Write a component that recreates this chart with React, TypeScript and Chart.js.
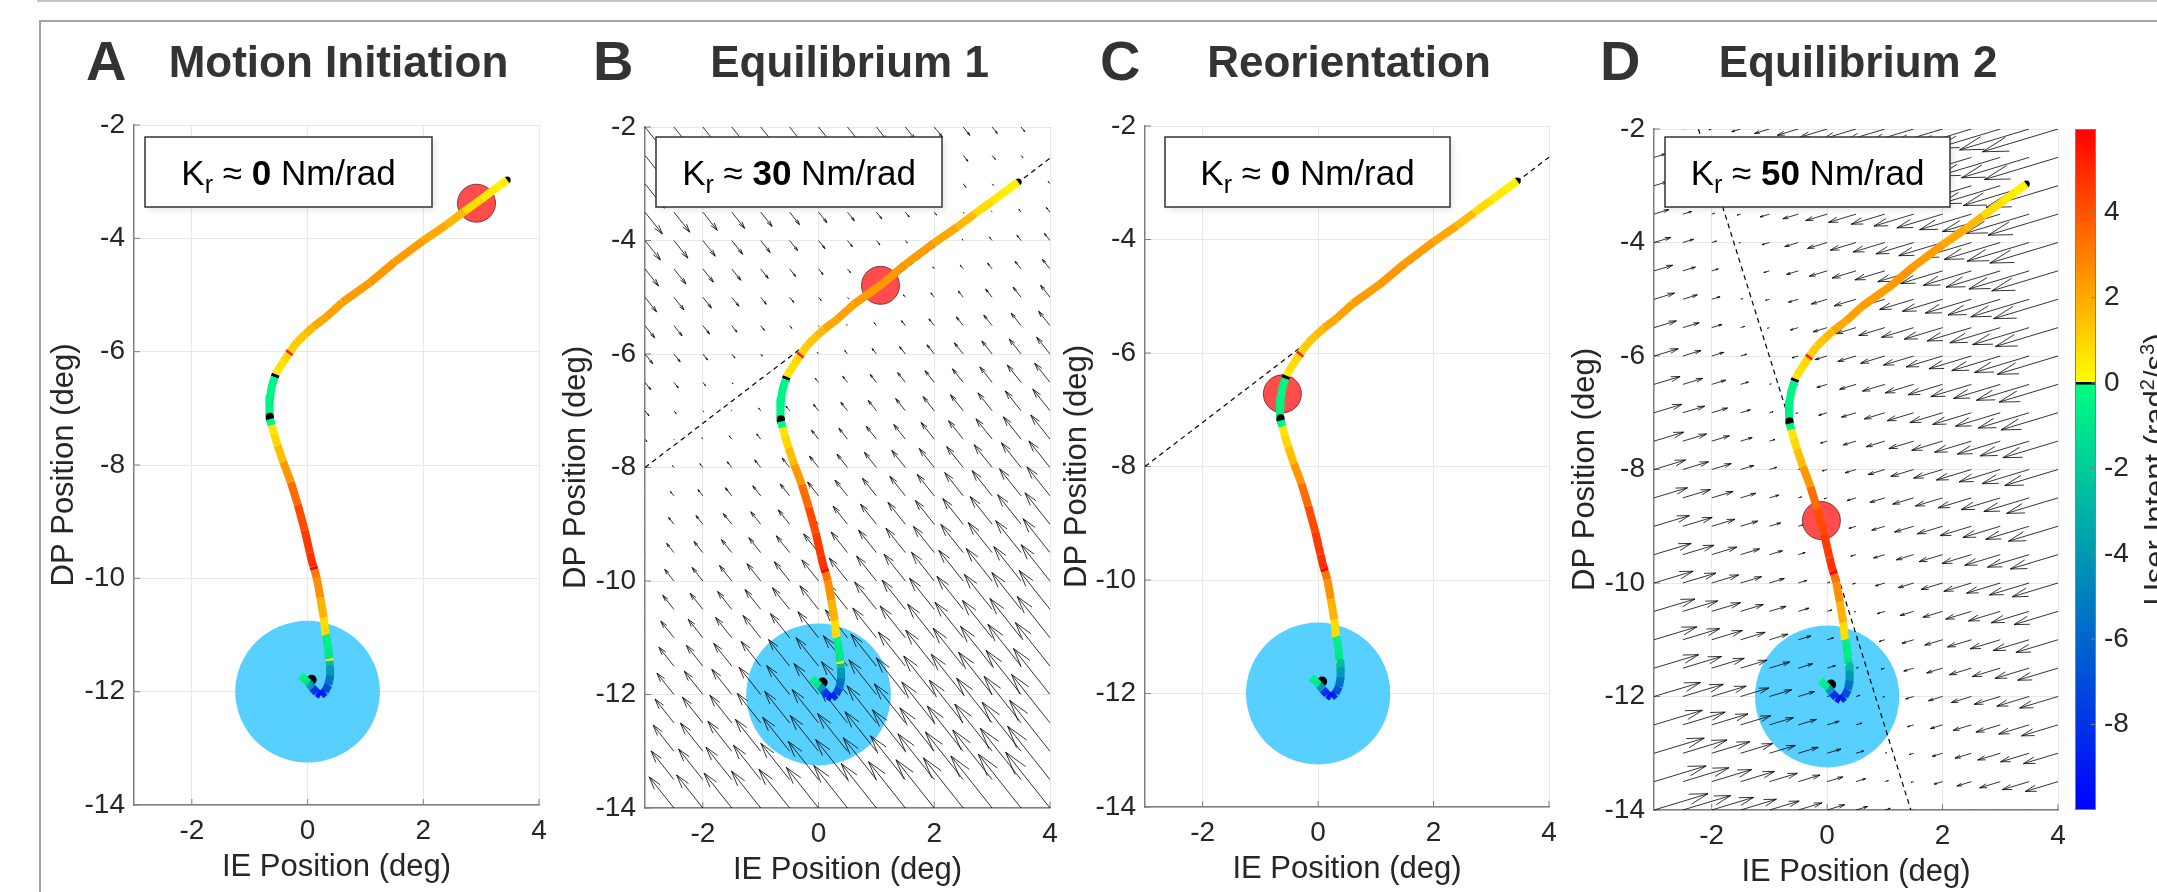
import React, { useEffect, useRef } from 'react';
import { Chart, registerables } from 'chart.js';

Chart.register(...registerables);

// ---------------- DATA ----------------
const xTickValues = [-2, 0, 2, 4];
const yTickValues = [-14, -12, -10, -8, -6, -4, -2];
const colorbarTicks = [-8, -6, -4, -2, 0, 2, 4];
const xRange = [-3, 4];
const yRange = [-14, -2];
const colorbarRange = [-10, 5.95];

const panelLetters = ['A', 'B', 'C', 'D'];
const panelTitles = ['Motion Initiation', 'Equilibrium 1', 'Reorientation', 'Equilibrium 2'];
const stiffnessLabels = ['0', '30', '0', '50'];
const stiffnessK = [0, 30, 0, 50];

const redMarkerX = [2.92, 1.07, -0.62, -0.1];
const redMarkerY = [-3.38, -4.79, -6.72, -8.9];

const targetCenter = [0, -12];
const targetRadius = 1.25;

const equilibriumLineB = [[-3, -8], [4, -2.55]];
const equilibriumLineD = [[-2.23, -2], [1.45, -14]];
const dashedLines = [null, equilibriumLineB, equilibriumLineB, equilibriumLineD];
const fieldLines = [null, equilibriumLineB, null, equilibriumLineD];

const fieldGridX = [-3, -2.5, -2, -1.5, -1, -0.5, 0, 0.5, 1, 1.5, 2, 2.5, 3, 3.5, 4];
const fieldGridY = [-14, -13.5, -13, -12.5, -12, -11.5, -11, -10.5, -10, -9.5, -9, -8.5, -8, -7.5, -7, -6.5, -6, -5.5, -5, -4.5, -4, -3.5, -3, -2.5, -2];
const arrowScale = 0.0046; // arrow length (deg) per (Nm/rad * deg)

// trajectory (IE, DP) and user intent value at each point
const trajX = [3.45, 3.25, 3.0, 2.7, 2.4, 2.0, 1.5, 1.07, 0.6, 0.32, 0.1, -0.04, -0.18, -0.27, -0.30, -0.33, -0.42, -0.52, -0.55, -0.57, -0.62, -0.65, -0.66, -0.66, -0.66, -0.65, -0.62, -0.58, -0.52, -0.42, -0.29, -0.17, -0.05, 0.04, 0.08, 0.10, 0.12, 0.16, 0.22, 0.28, 0.31, 0.33, 0.36, 0.37, 0.38, 0.39, 0.39, 0.36, 0.30, 0.23, 0.16, 0.08, 0.02, -0.05, -0.12];
const trajY = [-2.97, -3.12, -3.31, -3.53, -3.76, -4.04, -4.42, -4.79, -5.13, -5.39, -5.56, -5.69, -5.83, -5.95, -6.00, -6.04, -6.18, -6.34, -6.40, -6.45, -6.62, -6.81, -6.95, -7.10, -7.15, -7.19, -7.30, -7.45, -7.65, -7.95, -8.30, -8.70, -9.15, -9.55, -9.72, -9.79, -9.85, -10.0, -10.34, -10.7, -11.0, -11.05, -11.3, -11.42, -11.46, -11.6, -11.72, -11.88, -12.0, -12.06, -12.02, -11.93, -11.85, -11.78, -11.72];
const trajV = [0.3, 0.5, 0.8, 1.6, 2.0, 2.3, 2.4, 2.3, 2.2, 2.0, 1.6, 1.3, 1.2, 1.1, 5.2, 0.9, 0.7, 0.5, 0, -0.4, -0.4, -0.5, -0.5, -0.4, 0, -0.3, 0.6, 0.9, 1.5, 2.4, 3.4, 4.2, 4.6, 4.8, 4.8, 5.8, 3.2, 2.6, 1.8, 0.8, -0.6, -0.7, -0.9, 0.4, -2.5, -4.0, -5.5, -7.0, -8.5, -9.0, -8.0, -4.0, -1.0, -0.5, -0.5];
const startPoint = [3.45, -2.97];
const endPoint = [0.07, -11.79];

// ---------------- LAYOUT / STYLE ----------------
const W = 2157;
const H = 892;
const FONT = '"Liberation Sans", Arial, Helvetica, sans-serif';
const panelLayout = [
  { plot: [134, 539, 125, 805], letterX: 86, ylabelX: 73, boxX: 145, boxW: 287 },
  { plot: [645, 1050, 127, 808], letterX: 593, ylabelX: 585, boxX: 656, boxW: 286 },
  { plot: [1145, 1549, 126, 807], letterX: 1100, ylabelX: 1086, boxX: 1165, boxW: 285 },
  { plot: [1654, 2058, 129, 810], letterX: 1600, ylabelX: 1594, boxX: 1665, boxW: 285 },
];
const colorbarLayout = { plot: [2075, 2096, 129, 810], labelX: 2166 };
const BOX_TOP = 137;
const BOX_H = 70;
const AXIS_W = 70;
const AXIS_H = 60;

function intentColor(v: number): string {
  if (v === 0) return '#000000';
  if (v > 0) {
    const t = Math.min(1, v / colorbarRange[1]);
    return `rgb(255,${Math.round(255 * (1 - t))},0)`;
  }
  const t = Math.min(1, -v / -colorbarRange[0]);
  return `rgb(0,${Math.round(255 * (1 - t))},${Math.round(128 + 127 * t)})`;
}

function drawQuiver(chart: any, line: number[][], k: number) {
  const { ctx, chartArea: a, scales } = chart;
  const xs = scales.x, ys = scales.y;
  const [[x0, y0], [x1, y1]] = line;
  const L = Math.hypot(x1 - x0, y1 - y0);
  const nx = -(y1 - y0) / L, ny = (x1 - x0) / L;
  const HA = 0.33, HB = 0.28;
  const P = (px: number, py: number) => [xs.getPixelForValue(px), ys.getPixelForValue(py)];
  ctx.save();
  ctx.beginPath();
  ctx.rect(a.left, a.top, a.right - a.left, a.bottom - a.top);
  ctx.clip();
  ctx.strokeStyle = '#000';
  ctx.lineWidth = 0.8;
  ctx.beginPath();
  for (const gx of fieldGridX) {
    for (const gy of fieldGridY) {
      const d = (gx - x0) * nx + (gy - y0) * ny;
      const u = -d * nx * k * arrowScale;
      const v = -d * ny * k * arrowScale;
      const tx = gx + u, ty = gy + v;
      const [sx, sy] = P(gx, gy);
      const [ex, ey] = P(tx, ty);
      ctx.moveTo(sx, sy);
      ctx.lineTo(ex, ey);
      const h1 = P(tx - HA * (u + HB * v), ty - HA * (v - HB * u));
      const h2 = P(tx - HA * (u - HB * v), ty - HA * (v + HB * u));
      ctx.moveTo(h1[0], h1[1]);
      ctx.lineTo(ex, ey);
      ctx.lineTo(h2[0], h2[1]);
    }
  }
  ctx.stroke();
  ctx.restore();
}

function drawKrBox(ctx: CanvasRenderingContext2D, x: number, w: number, label: string) {
  const y = BOX_TOP, h = BOX_H;
  ctx.save();
  ctx.shadowColor = 'rgba(0,0,0,0.10)';
  ctx.shadowBlur = 6;
  ctx.shadowOffsetX = 3;
  ctx.shadowOffsetY = 3;
  ctx.fillStyle = '#ffffff';
  ctx.fillRect(x, y, w, h);
  ctx.restore();
  ctx.save();
  ctx.strokeStyle = '#333333';
  ctx.lineWidth = 1.5;
  ctx.strokeRect(x, y, w, h);
  const F = 35;
  const parts = [
    { t: 'K', f: `${F}px ${FONT}`, dy: 0 },
    { t: 'r', f: `${Math.round(F * 0.7)}px ${FONT}`, dy: 8 },
    { t: ' ≈ ', f: `${F}px ${FONT}`, dy: 0 },
    { t: label, f: `bold ${F}px ${FONT}`, dy: 0 },
    { t: ' Nm/rad', f: `${F}px ${FONT}`, dy: 0 },
  ];
  let total = 0;
  const widths = parts.map((p) => {
    ctx.font = p.f;
    const m = ctx.measureText(p.t).width;
    total += m;
    return m;
  });
  let cx = x + w / 2 - total / 2;
  const base = y + h / 2 + 12.5;
  ctx.fillStyle = '#000000';
  ctx.textBaseline = 'alphabetic';
  ctx.textAlign = 'left';
  parts.forEach((p, i) => {
    ctx.font = p.f;
    ctx.fillText(p.t, cx, base + p.dy);
    cx += widths[i];
  });
  ctx.restore();
}

function makePanelPlugin(i: number) {
  const lay = panelLayout[i];
  return {
    id: 'panelDecor' + i,
    beforeDatasetsDraw(chart: any) {
      const { ctx, chartArea: a, scales } = chart;
      const xs = scales.x, ys = scales.y;
      // inward ticks
      ctx.save();
      ctx.strokeStyle = '#7f7f7f';
      ctx.lineWidth = 1;
      ctx.beginPath();
      for (const v of xTickValues) {
        const px = xs.getPixelForValue(v);
        ctx.moveTo(px, a.bottom);
        ctx.lineTo(px, a.bottom - 6);
      }
      for (const v of yTickValues) {
        const py = ys.getPixelForValue(v);
        ctx.moveTo(a.left, py);
        ctx.lineTo(a.left + 6, py);
      }
      ctx.stroke();
      ctx.restore();

      // target circle
      const cx = xs.getPixelForValue(targetCenter[0]);
      const cy = ys.getPixelForValue(targetCenter[1]);
      const rx = Math.abs(xs.getPixelForValue(targetCenter[0] + targetRadius) - cx);
      const ry = Math.abs(ys.getPixelForValue(targetCenter[1] + targetRadius) - cy);
      ctx.save();
      ctx.fillStyle = '#57cfff';
      ctx.beginPath();
      ctx.ellipse(cx, cy, rx, ry, 0, 0, Math.PI * 2);
      ctx.fill();
      ctx.restore();

      // quiver field
      const fl = fieldLines[i];
      if (fl) drawQuiver(chart, fl, stiffnessK[i]);

      // dashed equilibrium line
      const dl = dashedLines[i];
      if (dl) {
        ctx.save();
        ctx.beginPath();
        ctx.rect(a.left, a.top, a.right - a.left, a.bottom - a.top);
        ctx.clip();
        ctx.strokeStyle = '#000';
        ctx.lineWidth = 1.2;
        ctx.setLineDash([5, 4]);
        ctx.beginPath();
        ctx.moveTo(xs.getPixelForValue(dl[0][0]), ys.getPixelForValue(dl[0][1]));
        ctx.lineTo(xs.getPixelForValue(dl[1][0]), ys.getPixelForValue(dl[1][1]));
        ctx.stroke();
        ctx.restore();
      }

      // red marker
      ctx.save();
      ctx.fillStyle = '#ff4d4d';
      ctx.strokeStyle = 'rgba(110,40,40,0.85)';
      ctx.lineWidth = 1;
      ctx.beginPath();
      ctx.arc(xs.getPixelForValue(redMarkerX[i]), ys.getPixelForValue(redMarkerY[i]), 19, 0, Math.PI * 2);
      ctx.fill();
      ctx.stroke();
      ctx.restore();
    },
    afterDraw(chart: any) {
      const { ctx, chartArea: a } = chart;
      drawKrBox(ctx, lay.boxX, lay.boxW, stiffnessLabels[i]);
      ctx.save();
      ctx.fillStyle = '#333333';
      ctx.textBaseline = 'alphabetic';
      ctx.textAlign = 'left';
      ctx.font = `bold 56px ${FONT}`;
      ctx.fillText(panelLetters[i], lay.letterX, 80);
      ctx.textAlign = 'center';
      ctx.font = `bold 44px ${FONT}`;
      ctx.fillText(panelTitles[i], (a.left + a.right) / 2 + 2, 77);
      ctx.fillStyle = '#262626';
      ctx.font = `31px ${FONT}`;
      ctx.fillText('IE Position (deg)', (a.left + a.right) / 2, a.bottom + 71);
      ctx.translate(lay.ylabelX, (a.top + a.bottom) / 2);
      ctx.rotate(-Math.PI / 2);
      ctx.fillText('DP Position (deg)', 0, 0);
      ctx.restore();
    },
  };
}

const tickFont = { family: FONT, size: 28 };

function makePanelConfig(i: number): any {
  const lay = panelLayout[i];
  const [l, r, t, b] = lay.plot;
  const points = trajX.map((x, k) => ({ x, y: trajY[k] }));
  return {
    type: 'scatter',
    data: {
      datasets: [
        {
          type: 'line',
          data: points,
          borderWidth: 8,
          pointRadius: 0,
          borderCapStyle: 'butt',
          borderJoinStyle: 'round',
          tension: 0,
          fill: false,
          borderColor: intentColor(trajV[0]),
          segment: { borderColor: (c: any) => intentColor(trajV[c.p0DataIndex]) },
        },
        {
          type: 'scatter',
          data: [
            { x: startPoint[0], y: startPoint[1] },
            { x: endPoint[0], y: endPoint[1] },
          ],
          pointRadius: [3.5, 5],
          backgroundColor: '#000',
          borderWidth: 0,
        },
      ],
    },
    options: {
      animation: false,
      responsive: false,
      maintainAspectRatio: false,
      events: [],
      layout: { padding: { left: l - AXIS_W, top: t, right: W - r, bottom: H - b - AXIS_H } },
      plugins: { legend: { display: false }, tooltip: { enabled: false }, title: { display: false } },
      scales: {
        x: {
          type: 'linear',
          min: xRange[0],
          max: xRange[1],
          afterFit: (s: any) => { s.height = AXIS_H; },
          afterBuildTicks: (s: any) => { s.ticks = xTickValues.map((v) => ({ value: v })); },
          grid: { color: '#e8e8e8', lineWidth: 1, drawTicks: false },
          border: { color: '#7f7f7f', width: 1.5 },
          ticks: { padding: 9, color: '#262626', font: tickFont, autoSkip: false, maxRotation: 0, callback: (v: any) => String(v) },
        },
        y: {
          type: 'linear',
          min: yRange[0],
          max: yRange[1],
          afterFit: (s: any) => { s.width = AXIS_W; },
          afterBuildTicks: (s: any) => { s.ticks = yTickValues.map((v) => ({ value: v })); },
          grid: { color: '#e8e8e8', lineWidth: 1, drawTicks: false },
          border: { color: '#7f7f7f', width: 1.5 },
          ticks: { padding: 9, color: '#262626', font: tickFont, autoSkip: false, callback: (v: any) => String(v) },
        },
      },
    },
    plugins: [makePanelPlugin(i)],
  };
}

const colorbarPlugin = {
  id: 'colorbarDecor',
  beforeDatasetsDraw(chart: any) {
    const { ctx, chartArea: a, scales } = chart;
    const ys = scales.y;
    ctx.save();
    for (let py = Math.floor(a.top); py < a.bottom; py++) {
      const v = ys.getValueForPixel(py + 0.5);
      ctx.fillStyle = intentColor(v === 0 ? 1e-6 : v);
      ctx.fillRect(a.left, py, a.right - a.left, 1);
    }
    const z = ys.getPixelForValue(0);
    ctx.fillStyle = '#000';
    ctx.fillRect(a.left, z - 1, a.right - a.left, 2.5);
    ctx.strokeStyle = '#7f7f7f';
    ctx.lineWidth = 1;
    ctx.strokeRect(a.left + 0.5, a.top + 0.5, a.right - a.left - 1, a.bottom - a.top - 1);
    ctx.beginPath();
    for (const v of colorbarTicks) {
      const py = ys.getPixelForValue(v);
      ctx.moveTo(a.right, py);
      ctx.lineTo(a.right - 5, py);
    }
    ctx.stroke();
    // label (partly beyond the right edge, as in the original figure)
    const F = 31, FS = 20;
    const parts = [
      { t: 'User Intent (rad', f: `${F}px ${FONT}`, dy: 0 },
      { t: '2', f: `${FS}px ${FONT}`, dy: -12 },
      { t: '/s', f: `${F}px ${FONT}`, dy: 0 },
      { t: '3', f: `${FS}px ${FONT}`, dy: -12 },
      { t: ')', f: `${F}px ${FONT}`, dy: 0 },
    ];
    let total = 0;
    const widths = parts.map((p) => { ctx.font = p.f; const m = ctx.measureText(p.t).width; total += m; return m; });
    ctx.translate(colorbarLayout.labelX, (a.top + a.bottom) / 2);
    ctx.rotate(-Math.PI / 2);
    ctx.fillStyle = '#262626';
    ctx.textAlign = 'left';
    ctx.textBaseline = 'alphabetic';
    let x = -total / 2;
    parts.forEach((p, k) => { ctx.font = p.f; ctx.fillText(p.t, x, p.dy); x += widths[k]; });
    ctx.restore();
  },
};

function makeColorbarConfig(): any {
  const [l, r, t, b] = colorbarLayout.plot;
  return {
    type: 'scatter',
    data: { datasets: [{ data: [], pointRadius: 0 }] },
    options: {
      animation: false,
      responsive: false,
      maintainAspectRatio: false,
      events: [],
      layout: { padding: { left: l, top: t, right: W - r - AXIS_W, bottom: H - b } },
      plugins: { legend: { display: false }, tooltip: { enabled: false } },
      scales: {
        x: { type: 'linear', display: false, min: 0, max: 1 },
        y: {
          type: 'linear',
          position: 'right',
          min: colorbarRange[0],
          max: colorbarRange[1],
          afterFit: (s: any) => { s.width = AXIS_W; },
          afterBuildTicks: (s: any) => { s.ticks = colorbarTicks.map((v) => ({ value: v })); },
          grid: { display: false, drawTicks: false },
          border: { display: false },
          ticks: { padding: 8, color: '#262626', font: tickFont, autoSkip: false, callback: (v: any) => String(v) },
        },
      },
    },
    plugins: [colorbarPlugin],
  };
}

export default function App() {
  const canvRefs = useRef<(HTMLCanvasElement | null)[]>([]);
  useEffect(() => {
    document.body.style.margin = '0';
    document.body.style.background = '#ffffff';
    const charts: Chart[] = [];
    for (let i = 0; i < 4; i++) {
      const c = canvRefs.current[i];
      if (c) charts.push(new Chart(c, makePanelConfig(i)));
    }
    const cb = canvRefs.current[4];
    if (cb) charts.push(new Chart(cb, makeColorbarConfig()));
    return () => charts.forEach((c) => c.destroy());
  }, []);
  const canvasStyle: React.CSSProperties = { position: 'absolute', left: 0, top: 0, width: W, height: H };
  return (
    <div style={{ position: 'relative', width: W, height: H, background: '#ffffff', overflow: 'hidden' }}>
      <div style={{ position: 'absolute', left: 37, top: 0, width: W - 37, height: 2, background: '#c4c4c4' }} />
      <div style={{ position: 'absolute', left: 39, top: 20, width: W - 39, height: 2, background: '#a3a3a3' }} />
      <div style={{ position: 'absolute', left: 39, top: 20, width: 2, height: H - 20, background: '#a3a3a3' }} />
      {[0, 1, 2, 3, 4].map((i) => (
        <canvas key={i} ref={(el) => { canvRefs.current[i] = el; }} width={W} height={H} style={canvasStyle} />
      ))}
    </div>
  );
}
